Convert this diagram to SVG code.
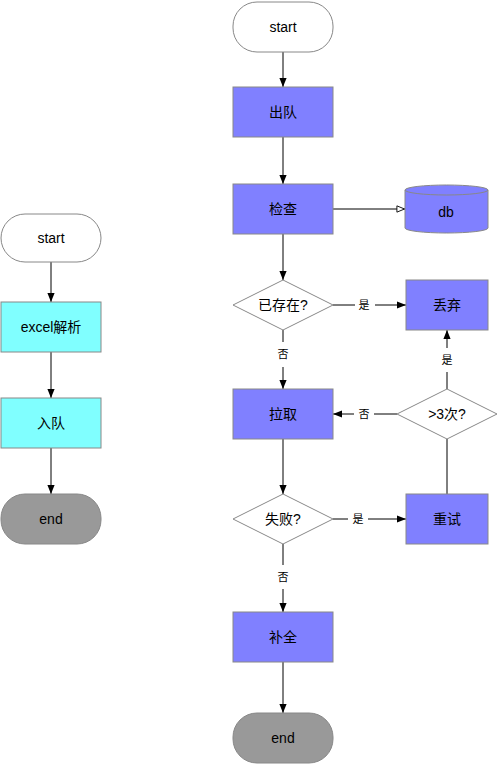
<svg xmlns="http://www.w3.org/2000/svg" width="498" height="765" viewBox="0 0 498 765">
<style>
.n{stroke:#888888;stroke-width:1}
.w{fill:#ffffff}
.b{fill:#8080ff}
.c{fill:#80ffff}
.g{fill:#999999}
text{font-family:"Liberation Sans","Noto Sans CJK SC",sans-serif;font-size:14px;fill:#000;text-anchor:middle;dominant-baseline:central}
.l{font-size:11px}
.e{fill:none;stroke:#000;stroke-width:1}
.lb{fill:#fff}
</style>
<defs>
<marker id="a" viewBox="0 0 10 10" refX="10" refY="5" markerWidth="9" markerHeight="9" markerUnits="userSpaceOnUse" orient="auto"><path d="M0,1 L10,5 L0,9 z" fill="#000"/></marker>
<marker id="o" viewBox="0 0 10 10" refX="10" refY="5" markerWidth="9" markerHeight="9" markerUnits="userSpaceOnUse" orient="auto"><path d="M1,1.5 L9.5,5 L1,8.5 z" fill="#fff" stroke="#000" stroke-width="1"/></marker>
</defs>
<g id="connectors">
<path class="e" d="M51,262 V302" marker-end="url(#a)"/>
<path class="e" d="M51,352 V398" marker-end="url(#a)"/>
<path class="e" d="M51,448 V494" marker-end="url(#a)"/>
<path class="e" d="M283,52 V87" marker-end="url(#a)"/>
<path class="e" d="M283,137 V184" marker-end="url(#a)"/>
<path class="e" d="M333,209 H405" marker-end="url(#o)"/>
<path class="e" d="M283,234 V280" marker-end="url(#a)"/>
<path class="e" d="M333,305 H406" marker-end="url(#a)"/>
<rect class="lb" x="355" y="298" width="20" height="14"/>
<text class="l" x="364" y="305">是</text>
<path class="e" d="M283,330 V389" marker-end="url(#a)"/>
<rect class="lb" x="276" y="342" width="14" height="25"/>
<text class="l" x="283" y="354">否</text>
<path class="e" d="M397,414 H333" marker-end="url(#a)"/>
<rect class="lb" x="354" y="407" width="20" height="14"/>
<text class="l" x="364" y="414">否</text>
<path class="e" d="M447,389 V330" marker-end="url(#a)"/>
<rect class="lb" x="440" y="348" width="14" height="24"/>
<text class="l" x="447" y="360">是</text>
<path class="e" d="M283,439 V494" marker-end="url(#a)"/>
<path class="e" d="M333,519 H406" marker-end="url(#a)"/>
<rect class="lb" x="348" y="512" width="20" height="14"/>
<text class="l" x="358" y="519">是</text>
<path class="e" d="M447,494 V439"/>
<path class="e" d="M283,544 V612" marker-end="url(#a)"/>
<rect class="lb" x="276" y="565" width="14" height="24"/>
<text class="l" x="283" y="577">否</text>
<path class="e" d="M283,662 V713" marker-end="url(#a)"/>
</g>
<g id="l-start"><rect class="n w" x="1" y="214" width="100" height="48" rx="24"/><text x="51" y="238">start</text></g>
<g id="l-excel"><rect class="n c" x="1" y="302" width="100" height="50"/><text x="51" y="327">excel解析</text></g>
<g id="l-enqueue"><rect class="n c" x="1" y="398" width="100" height="50"/><text x="51" y="423">入队</text></g>
<g id="l-end"><rect class="n g" x="1" y="494" width="100" height="50" rx="24"/><text x="51" y="519">end</text></g>
<g id="r-start"><rect class="n w" x="233" y="2" width="100" height="50" rx="24"/><text x="283" y="27">start</text></g>
<g id="dequeue"><rect class="n b" x="233" y="87" width="100" height="50"/><text x="283" y="112">出队</text></g>
<g id="check"><rect class="n b" x="233" y="184" width="100" height="50"/><text x="283" y="209">检查</text></g>
<g id="db"><path class="n b" d="M405,190 A41.5,5 0 0 1 488,190 V228 A41.5,5 0 0 1 405,228 Z"/><path class="n" fill="none" d="M405,190 A41.5,5 0 0 0 488,190"/><text x="446" y="212">db</text></g>
<g id="exists"><polygon class="n w" points="283,280 333,305 283,330 233,305"/><text x="283" y="305">已存在?</text></g>
<g id="discard"><rect class="n b" x="406" y="280" width="82" height="50"/><text x="447" y="305">丢弃</text></g>
<g id="pull"><rect class="n b" x="233" y="389" width="100" height="50"/><text x="283" y="414">拉取</text></g>
<g id="gt3"><polygon class="n w" points="447,389 497,414 447,439 397,414"/><text x="447" y="414">&gt;3次?</text></g>
<g id="fail"><polygon class="n w" points="283,494 333,519 283,544 233,519"/><text x="283" y="519">失败?</text></g>
<g id="retry"><rect class="n b" x="406" y="494" width="82" height="50"/><text x="447" y="519">重试</text></g>
<g id="complete"><rect class="n b" x="233" y="612" width="100" height="50"/><text x="283" y="637">补全</text></g>
<g id="r-end"><rect class="n g" x="233" y="713" width="100" height="50" rx="24"/><text x="283" y="738">end</text></g>
</svg>
